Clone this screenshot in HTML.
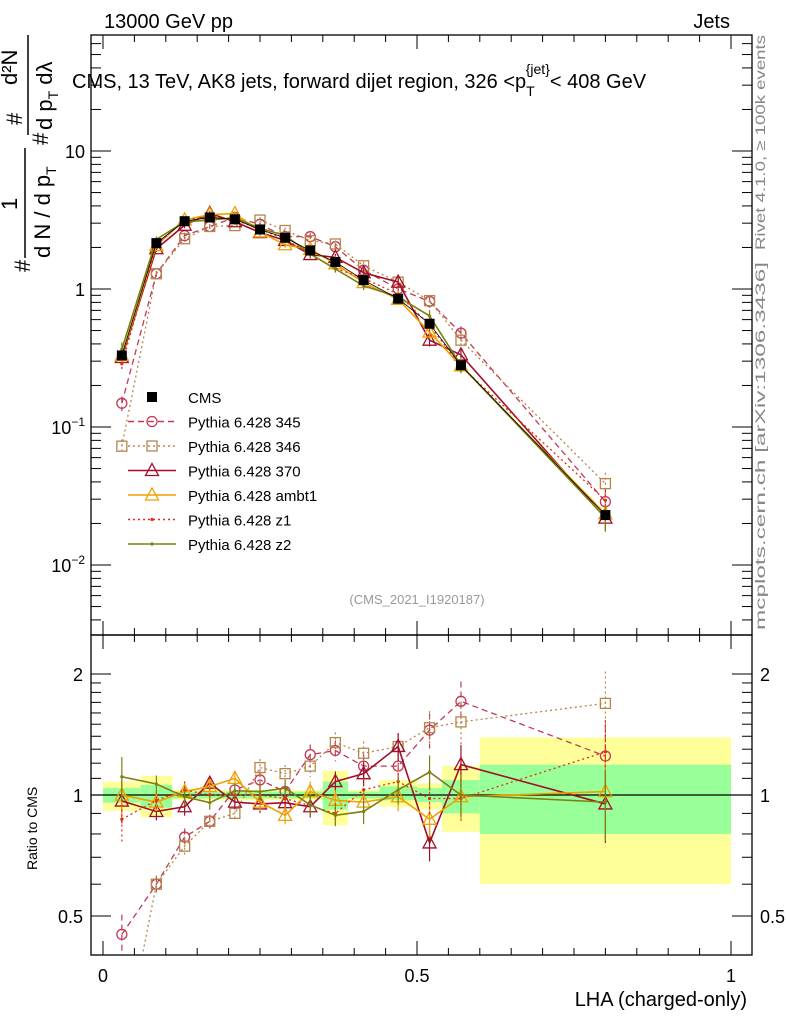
<!DOCTYPE html>
<html><head><meta charset="utf-8"><style>
html,body{margin:0;padding:0;background:#fff;overflow:hidden;width:786px;height:1024px}
svg{font-family:"Liberation Sans",sans-serif;display:block;position:absolute;left:0;top:0}
</style></head><body>
<svg id="c" width="786" height="1024" viewBox="0 0 786 1024" xmlns="http://www.w3.org/2000/svg" overflow="hidden">
<rect width="786" height="1024" fill="#fff"/>
<g id="bands"></g>
<g id="series"></g>
<g id="axes"></g>
<text x="104" y="28" font-size="20">13000 GeV pp</text>
<text x="730" y="28" font-size="20" text-anchor="end">Jets</text>
<text x="72" y="88" font-size="20">CMS, 13 TeV, AK8 jets, forward dijet region, 326 &lt;p<tspan font-size="14" dy="8">T</tspan><tspan font-size="14" dx="-9" dy="-22">{jet}</tspan><tspan dy="14">&lt; 408 GeV</tspan></text>
<text x="417" y="604" font-size="13" fill="#999" text-anchor="middle">(CMS_2021_I1920187)</text>
<text transform="translate(765,250) rotate(-90)" font-size="14" fill="#888" textLength="215" lengthAdjust="spacingAndGlyphs">Rivet 4.1.0, ≥ 100k events</text>
<text transform="translate(765,630) rotate(-90)" font-size="14" fill="#888" textLength="368" lengthAdjust="spacingAndGlyphs">mcplots.cern.ch [arXiv:1306.3436]</text>
<g font-size="22">
<text transform="translate(30,272) rotate(-90)">#</text>
<text transform="translate(17,210) rotate(-90)">1</text>
<line x1="25" y1="258" x2="25" y2="148" stroke="#000" stroke-width="1.5"/>
<text transform="translate(50,258) rotate(-90)">d N / d p<tspan font-size="14" dy="6">T</tspan></text>
<text transform="translate(48,145) rotate(-90)">#</text>
<text transform="translate(22,125) rotate(-90)">#</text>
<line x1="28" y1="135" x2="28" y2="35" stroke="#000" stroke-width="1.5"/>
<text transform="translate(52,130) rotate(-90)">d p<tspan font-size="14" dy="6">T</tspan><tspan dy="-6"> dλ</tspan></text>
<text transform="translate(17,85) rotate(-90)">d²N</text>
</g>
<text transform="translate(37,870) rotate(-90)" font-size="14">Ratio to CMS</text>
<text x="747" y="1006" font-size="20" text-anchor="end">LHA (charged-only)</text>
<g id="legend"></g>
</svg>
<script>
const edges=[0,0.06,0.11,0.15,0.19,0.23,0.27,0.31,0.35,0.39,0.44,0.5,0.54,0.6,1.0];
const cms=[0.33,2.15,3.1,3.3,3.2,2.7,2.35,1.9,1.57,1.16,0.85,0.56,0.28,0.023];
const bandYelHi=[1.08,1.115,1.03,1.03,1.03,1.03,1.03,1.03,1.15,1.03,1.09,1.07,1.18,1.39];
const bandYelLo=[0.914,0.88,0.97,0.97,0.97,0.97,0.97,0.97,0.84,0.97,0.935,0.92,0.81,0.6];
const bandGrnHi=[1.04,1.06,1.02,1.02,1.02,1.02,1.02,1.02,1.08,1.02,1.05,1.04,1.09,1.19];
const bandGrnLo=[0.957,0.93,0.98,0.98,0.98,0.98,0.98,0.98,0.92,0.98,0.97,0.96,0.9,0.8];
const r345=[0.45,0.6,0.786,0.86,1.03,1.09,1.02,1.26,1.29,1.18,1.18,1.45,1.71,1.25];
const r346=[0.22,0.6,0.746,0.86,0.9,1.17,1.13,1.18,1.35,1.27,1.32,1.47,1.52,1.69];
const r370=[0.966,0.91,0.935,1.07,0.96,0.95,0.957,0.935,1.08,1.13,1.32,0.76,1.19,0.95];
const rAmbt1=[1.0,0.96,1.02,1.05,1.1,0.96,0.89,1.02,0.97,0.96,0.99,0.87,0.99,1.02];
const rZ1=[0.87,0.97,1.03,1.0,1.0,1.0,0.98,0.94,0.9,1.03,1.08,0.98,0.98,1.28];
const rZ2=[1.11,1.065,0.99,0.957,1.025,1.02,1.04,0.945,0.89,0.91,1.03,1.14,1.0,0.96];
const relErr=[0.12,0.05,0.05,0.04,0.04,0.05,0.05,0.06,0.06,0.07,0.08,0.1,0.12,0.2];
const NS="http://www.w3.org/2000/svg";
const X0=91,X1=752,MT=35,MB=635,RB=955;
const sx=v=>103+v*628;
const sy=v=>289-Math.log10(v)*138;
const sr=v=>795-Math.log10(v)*402;
function mk(tag,at,parent){const e=document.createElementNS(NS,tag);for(const k in at)e.setAttribute(k,at[k]);parent.appendChild(e);return e;}
const gB=document.getElementById('bands'),gS=document.getElementById('series'),gA=document.getElementById('axes'),gL=document.getElementById('legend');
const cx=edges.slice(0,-1).map((e,i)=>(e+edges[i+1])/2);
for(let i=0;i<cms.length;i++){
 const x=sx(edges[i]),w=sx(edges[i+1])-x;
 const y1=mk('rect',{x:x,y:sr(bandYelHi[i]),width:w,height:sr(bandYelLo[i])-sr(bandYelHi[i]),fill:'#ffff99'},gB);
 
 
 const g1=mk('rect',{x:x,y:sr(bandGrnHi[i]),width:w,height:sr(bandGrnLo[i])-sr(bandGrnHi[i]),fill:'#99ff99'},gB);
 
 
}
const unity=mk('line',{x1:X0,x2:X1,y1:sr(1),y2:sr(1),stroke:'#000','stroke-width':1.2},gB);


function marker(type,x,y,col,g){
 if(type==='fsq')return mk('rect',{x:x-5,y:y-5,width:10,height:10,fill:'#000'},g);
 if(type==='circ')return mk('circle',{cx:x,cy:y,r:5,fill:'none',stroke:col,'stroke-width':1.3},g);
 if(type==='sq')return mk('rect',{x:x-5,y:y-5,width:10,height:10,fill:'none',stroke:col,'stroke-width':1.3},g);
 if(type==='tri')return mk('path',{d:`M${x} ${y-7}L${x+6.5} ${y+5}L${x-6.5} ${y+5}Z`,fill:'none',stroke:col,'stroke-width':1.3},g);
 return mk('circle',{cx:x,cy:y,r:1.6,fill:col},g);
}
const series=[
 {name:'Pythia 6.428 345',key:'p345',r:r345,col:'#c03a55',dash:'6,4',m:'circ'},
 {name:'Pythia 6.428 346',key:'p346',r:r346,col:'#b5854a',dash:'2,3',m:'sq'},
 {name:'Pythia 6.428 370',key:'p370',r:r370,col:'#a00f28',dash:'',m:'tri'},
 {name:'Pythia 6.428 ambt1',key:'ambt1',r:rAmbt1,col:'#f0a000',dash:'',m:'tri'},
 {name:'Pythia 6.428 z1',key:'z1',r:rZ1,col:'#e82a10',dash:'2,3',m:'dot'},
 {name:'Pythia 6.428 z2',key:'z2',r:rZ2,col:'#7f7f10',dash:'',m:'dot'}
];
const cmc=mk('clipPath',{id:'cm'},gS);mk('rect',{x:X0,y:MT,width:X1-X0,height:MB-MT},cmc);
const cr=mk('clipPath',{id:'cr'},gS);mk('rect',{x:X0,y:MB,width:X1-X0,height:RB-MB},cr);
series.forEach(s=>{
 const gm=mk('g',{'clip-path':'url(#cm)'},gS);
 
 
 const gr=mk('g',{'clip-path':'url(#cr)'},gS);
 
 
 const vals=s.r.map((r,i)=>r*cms[i]);
 const lw=s.dash?1.3:1.6;
 mk('polyline',{points:cx.map((c,i)=>sx(c)+','+sy(vals[i])).join(' '),fill:'none',stroke:s.col,'stroke-width':lw,'stroke-dasharray':s.dash},gm);
 mk('polyline',{points:cx.map((c,i)=>sx(c)+','+sr(s.r[i])).join(' '),fill:'none',stroke:s.col,'stroke-width':lw,'stroke-dasharray':s.dash},gr);
 cx.forEach((c,i)=>{
  const e=relErr[i];
  mk('line',{x1:sx(c),x2:sx(c),y1:sy(vals[i]*(1+e)),y2:sy(vals[i]*(1-e)),stroke:s.col,'stroke-width':1.2,'stroke-dasharray':s.dash},gm);
  mk('line',{x1:sx(c),x2:sx(c),y1:sr(s.r[i]*(1+e)),y2:sr(s.r[i]*(1-e)),stroke:s.col,'stroke-width':1.2,'stroke-dasharray':s.dash},gr);
  const m1=marker(s.m,sx(c),sy(vals[i]),s.col,gm);
  
  
  const m2=marker(s.m,sx(c),sr(s.r[i]),s.col,gr);
  
  
 });
});
const gc=mk('g',{},gS);


mk('polyline',{points:cx.map((c,i)=>sx(c)+','+sy(cms[i])).join(' '),fill:'none',stroke:'#000','stroke-width':0.8},gc);
cx.forEach((c,i)=>{const m=marker('fsq',sx(c),sy(cms[i]),'#000',gc);
 
 });
const leg=[{name:'CMS',m:'fsq',col:'#000',dash:''}].concat(series);
leg.forEach((s,i)=>{
 const y=397+i*24.5;
 const g=mk('g',{},gL);
 
 
 if(i>0)mk('line',{x1:128,x2:176,y1:y,y2:y,stroke:s.col,'stroke-width':1.4,'stroke-dasharray':s.dash},g);
 marker(s.m,152,y,s.col,g);
 const t=mk('text',{x:188,y:y+6,'font-size':15},g);t.textContent=s.name;
});
[[MT,MB],[MB,RB]].forEach(([a,b])=>mk('rect',{x:X0,y:a,width:X1-X0,height:b-a,fill:'none',stroke:'#000','stroke-width':1.3},gA));
for(let k=0;k<=20;k++){const v=k*0.05,x=sx(v),L=(k%10===0)?14:7;
 [[MT,1],[MB,-1],[MB,1],[RB,-1]].forEach(([y,d])=>mk('line',{x1:x,x2:x,y1:y,y2:y+d*L,stroke:'#000','stroke-width':1},gA));
 if(k%10===0){const t=mk('text',{x:x,y:982,'font-size':18,'text-anchor':'middle'},gA);t.textContent=['0','0.5','1'][k/10];}}
for(let p=-3;p<=1;p++)for(let m=1;m<10;m++){const v=m*Math.pow(10,p),y=sy(v);if(y<MT||y>MB)continue;const L=m===1?20:10;
 mk('line',{x1:X0,x2:X0+L,y1:y,y2:y,stroke:'#000','stroke-width':1},gA);mk('line',{x1:X1,x2:X1-L,y1:y,y2:y,stroke:'#000','stroke-width':1},gA);}
const ylab=[[10,'10'],[1,'1'],[0.1,'10⁻¹'],[0.01,'10⁻²']];
ylab.forEach(([v,l])=>{const t=mk('text',{x:X0-6,y:sy(v)+7,'font-size':18,'text-anchor':'end'},gA);
 if(v<1){t.textContent='10';const ts=mk('tspan',{'font-size':12,dy:-8},t);ts.textContent=v===0.1?'−1':'−2';}else t.textContent=l;});
for(let k=4;k<=20;k++){const v=k/10;const y=sr(v);if(y<MB||y>RB)continue;const L=(v===0.5||v===1||v===2)?20:10;
 mk('line',{x1:X0,x2:X0+L,y1:y,y2:y,stroke:'#000','stroke-width':1},gA);mk('line',{x1:X1,x2:X1-L,y1:y,y2:y,stroke:'#000','stroke-width':1},gA);}
[[2,'2'],[1,'1'],[0.5,'0.5']].forEach(([v,l])=>{
 const t=mk('text',{x:X0-8,y:sr(v)+7,'font-size':18,'text-anchor':'end'},gA);t.textContent=l;
 const t2=mk('text',{x:X1+8,y:sr(v)+7,'font-size':18},gA);t2.textContent=l;});
</script>
</body></html>
